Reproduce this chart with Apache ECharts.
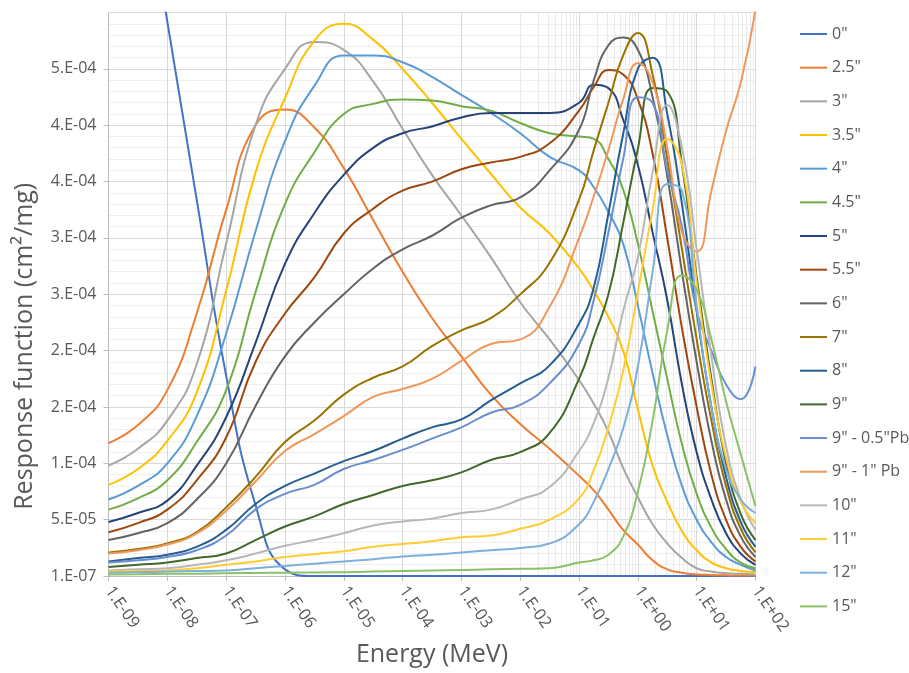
<!DOCTYPE html>
<html>
<head>
<meta charset="utf-8">
<script src="https://cdn.jsdelivr.net/npm/echarts@6/dist/echarts.min.js"></script>
<style>
  html, body { margin: 0; padding: 0; background: #ffffff; }
  #chart { width: 909px; height: 673px; }
</style>
</head>
<body>
<div id="chart"></div>
<script>
// Neutron energy grid (MeV), shared by every sphere response curve
const ENERGY_MEV = [1e-9, 3.16e-9, 1e-8, 3.16e-8, 1e-7, 3.16e-7, 1e-6, 3.16e-6, 1e-5, 3.16e-5,
  1e-4, 3.16e-4, 1e-3, 3.16e-3, 1e-2, 3.16e-2, 0.1, 0.178, 0.316, 0.562,
  1, 1.78, 3.16, 5.62, 10, 17.8, 31.6, 56.2, 100];

// Responses in units of 1e-5 cm²/mg
const UNIT = 1e-5;
const R_0 = [80.7, 65.0, 49.2, 33.4, 17.8, 6.3, 0.6, 0.01, 0.01, 0.01, 0.01, 0.01, 0.01, 0.01, 0.01, 0.01, 0.01, 0.01, 0.01, 0.01, 0.01, 0.01, 0.01, 0.01, 0.01, 0.01, 0.01, 0.01, 0.01];
const R_2_5 = [11.8, 13.4, 16.5, 23.3, 32.5, 40.0, 41.4, 39.8, 36.2, 31.6, 27.0, 22.9, 19.5, 16.1, 13.5, 11.3, 8.9, 7.6, 5.9, 4.1, 2.8, 1.4, 0.6, 0.3, 0.15, 0.1, 0.07, 0.05, 0.05];
const R_3 = [9.8, 11.3, 13.8, 18.8, 29.5, 40.0, 45.0, 47.4, 46.7, 43.9, 39.7, 35.6, 32.0, 28.3, 24.3, 21.0, 17.4, 15.3, 12.8, 9.6, 7.0, 4.6, 2.9, 1.6, 0.7, 0.4, 0.25, 0.2, 0.15];
const R_3_5 = [8.1, 9.5, 12.0, 16.3, 25.3, 35.8, 42.4, 47.5, 49.0, 47.6, 45.0, 42.0, 38.8, 35.7, 32.7, 30.4, 27.3, 25.3, 23.0, 20.0, 14.8, 9.8, 6.6, 4.0, 2.3, 1.2, 0.7, 0.45, 0.35];
const R_4 = [6.8, 8.0, 10.0, 14.2, 21.5, 30.6, 38.6, 43.5, 46.2, 46.2, 45.6, 44.3, 42.7, 41.1, 39.3, 37.2, 36.0, 34.5, 32.3, 29.5, 24.0, 18.0, 12.5, 8.0, 5.0, 3.0, 1.7, 1.0, 0.5];
const R_4_5 = [5.9, 6.9, 8.5, 11.9, 16.5, 25.2, 33.0, 37.6, 41.0, 41.9, 42.3, 42.2, 41.7, 41.3, 40.2, 39.3, 39.0, 38.8, 37.0, 34.3, 29.5, 23.5, 17.5, 11.7, 7.3, 4.3, 2.4, 1.2, 0.7];
const R_5 = [4.8, 5.6, 6.7, 9.8, 14.1, 20.7, 27.7, 32.2, 35.6, 38.0, 39.3, 39.9, 40.7, 41.1, 41.1, 41.1, 42.0, 43.6, 43.3, 40.5, 36.5, 30.5, 24.5, 17.0, 11.0, 6.8, 3.8, 2.0, 1.0];
const R_5_5 = [3.9, 4.7, 5.9, 8.5, 12.3, 19.0, 23.3, 26.5, 30.4, 32.6, 34.2, 35.0, 36.1, 36.7, 37.2, 38.4, 41.3, 43.4, 44.9, 44.5, 42.3, 37.5, 30.0, 22.0, 15.0, 9.0, 5.0, 2.6, 1.3];
const R_6 = [3.2, 3.8, 4.7, 6.8, 10.0, 15.1, 19.5, 22.5, 25.0, 27.3, 29.0, 30.2, 31.8, 32.9, 33.6, 36.0, 39.6, 44.0, 47.1, 47.8, 46.7, 42.5, 35.5, 27.0, 19.0, 12.0, 6.8, 3.5, 1.7];
const R_7 = [2.1, 2.4, 2.9, 3.9, 6.1, 8.8, 11.9, 13.8, 16.1, 17.6, 18.6, 20.4, 21.8, 22.9, 25.0, 27.8, 33.4, 37.8, 42.0, 46.2, 48.2, 44.5, 37.0, 29.0, 21.0, 13.8, 8.0, 4.2, 2.1];
const R_8 = [1.3, 1.6, 1.9, 2.6, 4.1, 6.4, 8.0, 9.1, 10.2, 11.1, 12.2, 13.2, 13.9, 15.6, 17.1, 18.7, 22.4, 25.6, 32.2, 39.2, 45.0, 46.0, 41.0, 33.0, 23.5, 15.0, 8.8, 4.8, 2.6];
const R_9 = [0.8, 1.0, 1.2, 1.6, 2.0, 3.2, 4.4, 5.3, 6.4, 7.2, 8.0, 8.5, 9.2, 10.3, 11.0, 12.7, 17.5, 21.2, 25.0, 31.3, 37.9, 43.3, 43.0, 36.5, 26.5, 17.5, 10.0, 5.5, 3.2];
const R_9_PB05 = [1.2, 1.4, 1.7, 2.3, 3.6, 5.9, 7.3, 8.1, 9.5, 10.3, 11.2, 12.2, 13.2, 14.5, 15.2, 17.1, 20.6, 24.5, 30.5, 37.0, 42.5, 42.0, 36.0, 31.0, 23.5, 20.0, 17.0, 15.7, 18.6];
const R_9_PB1 = [2.0, 2.3, 2.8, 3.8, 5.8, 8.4, 11.1, 12.6, 14.2, 15.9, 16.6, 17.5, 19.1, 20.6, 21.0, 23.9, 30.0, 33.7, 37.8, 42.3, 45.5, 43.8, 38.0, 30.5, 28.8, 34.2, 39.5, 43.8, 50.2];
const R_10 = [0.5, 0.6, 0.7, 1.0, 1.4, 2.0, 2.7, 3.2, 3.8, 4.5, 4.85, 5.1, 5.6, 5.9, 6.8, 7.9, 11.1, 13.6, 17.6, 23.5, 28.3, 35.8, 41.8, 38.0, 29.0, 19.5, 11.5, 6.8, 4.1];
const R_11 = [0.4, 0.45, 0.5, 0.7, 1.0, 1.3, 1.7, 1.95, 2.2, 2.6, 2.85, 3.1, 3.45, 3.6, 4.2, 5.0, 6.9, 9.4, 13.2, 18.2, 25.2, 32.5, 38.8, 36.5, 26.0, 17.0, 10.5, 6.6, 4.7];
const R_12 = [0.3, 0.35, 0.4, 0.45, 0.5, 0.7, 0.9, 1.1, 1.3, 1.5, 1.75, 1.9, 2.1, 2.3, 2.5, 2.9, 4.6, 6.6, 9.5, 13.1, 18.6, 27.0, 34.8, 34.2, 24.0, 15.0, 9.5, 6.8, 5.6];
const R_15 = [0.15, 0.17, 0.2, 0.22, 0.25, 0.28, 0.3, 0.33, 0.35, 0.4, 0.45, 0.5, 0.55, 0.6, 0.65, 0.7, 1.2, 1.4, 1.9, 3.5, 7.5, 13.8, 21.8, 26.7, 25.4, 21.0, 15.5, 10.8, 6.2];

const SPHERES = ['0"', '2.5"', '3"', '3.5"', '4"', '4.5"', '5"', '5.5"', '6"', '7"', '8"', '9"',
  '9" - 0.5"Pb', '9" - 1" Pb', '10"', '11"', '12"', '15"'];
const RESPONSES = [R_0, R_2_5, R_3, R_3_5, R_4, R_4_5, R_5, R_5_5, R_6, R_7, R_8, R_9,
  R_9_PB05, R_9_PB1, R_10, R_11, R_12, R_15];
const COLORS = ['#4472C4', '#ED7D31', '#A5A5A5', '#FFC000', '#5B9BD5', '#70AD47', '#264478', '#9E480E',
  '#636363', '#997300', '#255E91', '#43682B', '#698ED0', '#F1975A', '#B7B7B7', '#FFCD33', '#7CAFDD', '#8CC168'];

// Axis ranges
const E_MIN = 1e-9, E_MAX = 100;
const Y_MIN = 1e-7, Y_MAX = 5e-4, Y_STEP = 5e-5;

const FONT = '"Open Sans", "Noto Sans", sans-serif';
const TEXT = '#595959';

function expLabel(exp) {
  return 'E' + (exp < 0 ? '-' : '+') + String(Math.abs(exp)).padStart(2, '0');
}
function yLabel(v) {
  const parts = v.toExponential(0).split('e');
  return parts[0] + '.' + expLabel(parseInt(parts[1], 10));
}
function xLabel(v) {
  return '1.' + expLabel(Math.round(Math.log10(v)));
}

// Minor vertical grid at 2..9 × each decade
const minorEnergies = [];
for (let n = -9; n < 2; n++) {
  for (let k = 2; k <= 9; k++) minorEnergies.push(k * Math.pow(10, n));
}

const series = SPHERES.map((name, i) => ({
  name: name,
  type: 'line',
  data: ENERGY_MEV.map((e, j) => [e, RESPONSES[i][j] * UNIT]),
  smooth: 0.5,
  symbol: 'none',
  showSymbol: false,
  clip: true,
  z: 3,
  lineStyle: { color: COLORS[i], width: 2 },
  itemStyle: { color: COLORS[i] },
  emphasis: { disabled: true }
}));

series.unshift({
  name: 'minor-grid',
  type: 'line',
  data: [],
  silent: true,
  z: 1,
  markLine: {
    silent: true,
    animation: false,
    z: 1,
    symbol: ['none', 'none'],
    label: { show: false },
    lineStyle: { color: '#EBEBEB', type: 'solid', width: 1 },
    emphasis: { disabled: true },
    data: minorEnergies.map(e => ({ xAxis: e }))
  }
});

const chart = echarts.init(document.getElementById('chart'), null, { renderer: 'canvas' });
chart.setOption({
  animation: false,
  backgroundColor: '#ffffff',
  textStyle: { fontFamily: FONT },
  grid: { left: 108.5, right: 153.5, top: 12.6, bottom: 97, containLabel: false },
  legend: {
    orient: 'vertical',
    left: 799,
    top: 26,
    padding: 0,
    itemWidth: 27,
    itemHeight: 16,
    itemGap: 17.67,
    data: SPHERES,
    itemStyle: { opacity: 0 },
    textStyle: { color: TEXT, fontSize: 16, fontFamily: FONT },
    selectedMode: false
  },
  xAxis: {
    type: 'log',
    logBase: 10,
    min: E_MIN,
    max: E_MAX,
    interval: 1,
    name: 'Energy (MeV)',
    nameLocation: 'middle',
    nameGap: 66,
    nameTextStyle: { color: TEXT, fontSize: 25, fontFamily: FONT },
    axisLine: { show: true, onZero: false, lineStyle: { color: '#BFBFBF', width: 1 } },
    axisTick: { show: true, length: 5, lineStyle: { color: '#BFBFBF' } },
    axisLabel: { rotate: -55, margin: 12, color: TEXT, fontSize: 16.5, fontFamily: FONT, formatter: xLabel },
    splitLine: { show: true, lineStyle: { color: '#D9D9D9', width: 1 } }
  },
  yAxis: {
    type: 'value',
    min: Y_MIN,
    max: Y_MAX,
    interval: Y_STEP,
    name: 'Response function (cm²/mg)',
    nameLocation: 'middle',
    nameGap: 71,
    nameTextStyle: { color: TEXT, fontSize: 25, fontFamily: FONT, padding: [0, 104, 0, 0] },
    axisLine: { show: true, lineStyle: { color: '#BFBFBF', width: 1 } },
    axisTick: { show: true, length: 5, lineStyle: { color: '#BFBFBF' } },
    axisLabel: { color: TEXT, fontSize: 16, fontFamily: FONT, margin: 12, showMaxLabel: false, formatter: yLabel },
    splitLine: { show: true, lineStyle: { color: '#D9D9D9', width: 1 } },
    minorTick: { show: false, splitNumber: 5 },
    minorSplitLine: { show: true, lineStyle: { color: '#EFEFEF', width: 1 } }
  },
  series: series
});
</script>
</body>
</html>
